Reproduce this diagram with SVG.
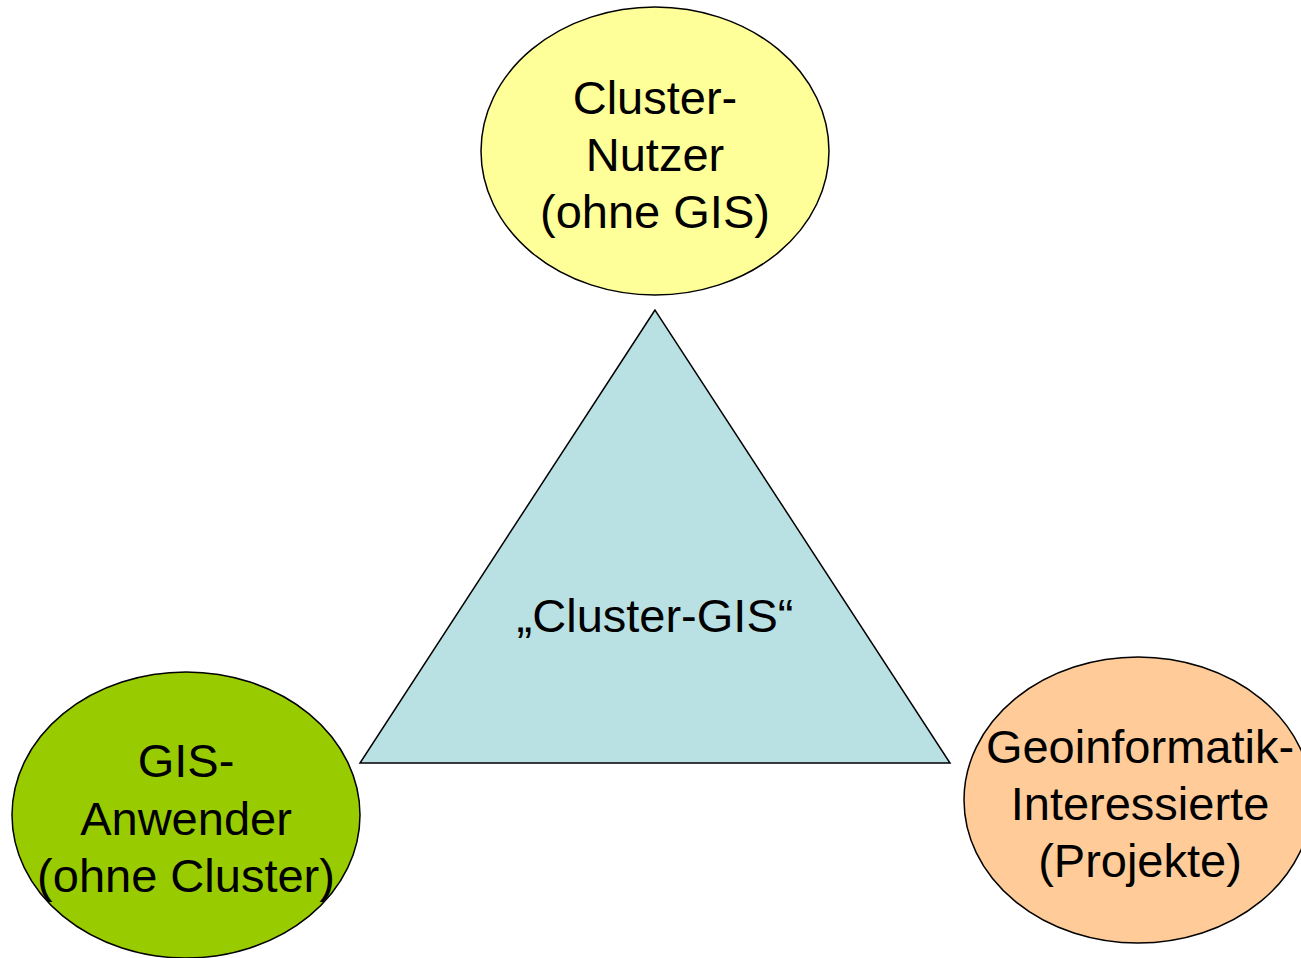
<svg xmlns="http://www.w3.org/2000/svg" width="1301" height="958" viewBox="0 0 1301 958">
<style>
.shape{stroke:#000;stroke-width:1.5}
.lbl{font-family:"Liberation Sans",Arial,sans-serif;font-size:47px;fill:#000;text-anchor:middle}
</style>
<rect width="1301" height="958" fill="#fff"/>
<g id="connectors"></g>
<g id="triangle">
<polygon class="shape" points="655,310 360,763 950,763" fill="#B9E0E3"/>
<text class="lbl" x="655" y="632">„Cluster-GIS“</text>
</g>
<g id="cluster-nutzer">
<ellipse class="shape" cx="655" cy="151" rx="174" ry="144" fill="#FFFF99"/>
<text class="lbl" x="655" y="114">Cluster-</text>
<text class="lbl" x="655" y="171">Nutzer</text>
<text class="lbl" x="655" y="228">(ohne GIS)</text>
</g>
<g id="gis-anwender">
<ellipse class="shape" cx="186" cy="815" rx="174" ry="143" fill="#99CC00"/>
<text class="lbl" x="186" y="777">GIS-</text>
<text class="lbl" x="186" y="835">Anwender</text>
<text class="lbl" x="186" y="892">(ohne Cluster)</text>
</g>
<g id="geoinformatik">
<ellipse class="shape" cx="1138" cy="800" rx="174" ry="143" fill="#FFCC99"/>
<text class="lbl" x="1140" y="763">Geoinformatik-</text>
<text class="lbl" x="1140" y="820">Interessierte</text>
<text class="lbl" x="1140" y="877">(Projekte)</text>
</g>
</svg>
